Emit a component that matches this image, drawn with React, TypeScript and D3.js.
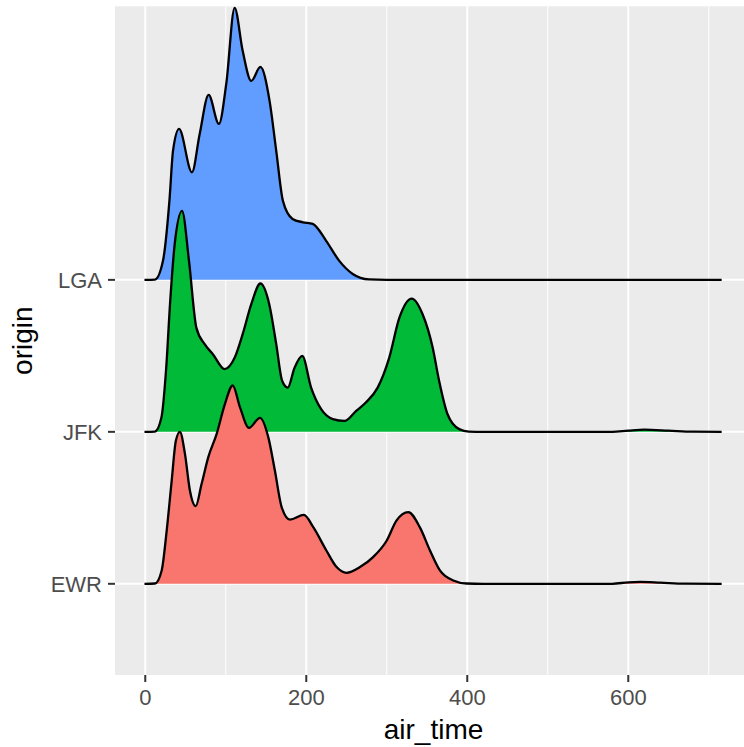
import React from 'react';
import * as d3 from 'd3';

// ridge heights, in units of one row spacing
const origins = ['EWR', 'JFK', 'LGA'];
const fills = ['#F8766D', '#00BA38', '#619CFF'];
const xTicks = [0, 200, 400, 600];
const xMinorTicks = [100, 300, 500, 700];

const ewrRidge: [number, number][] = [
    [-1, 0], [12, 0.002], [20.4, 0.088], [26.6, 0.349], [32.8, 0.678], [38, 0.941], [43, 1.0],
    [49.3, 0.855], [55.5, 0.612], [62.6, 0.511], [70, 0.658], [78.3, 0.834], [88.7, 0.987],
    [99, 1.184], [108.6, 1.305], [117.6, 1.163], [128.8, 1.026], [142.5, 1.092], [152.8, 0.965],
    [161, 0.745], [169.4, 0.505], [179.7, 0.423], [197, 0.454], [208.7, 0.373], [225, 0.219],
    [237.7, 0.11], [250, 0.072], [266.7, 0.11], [283, 0.176], [300, 0.285], [312, 0.416],
    [326.7, 0.472], [341, 0.373], [353.7, 0.219], [366, 0.088], [382.6, 0.022], [399, 0.002],
    [420, 0], [580, 0], [600, 0.01], [615, 0.013], [640, 0.008], [670, 0.001], [716, 0],
];

const jfkRidge: [number, number][] = [
    [-1, 0], [12, 0.002], [20, 0.092], [26, 0.42], [31, 0.862], [36.6, 1.237], [45.7, 1.454],
    [54.3, 1.125], [63.5, 0.684], [73.8, 0.577], [84, 0.511], [98.6, 0.413], [111, 0.487],
    [121, 0.643], [131.7, 0.84], [143, 0.976], [154, 0.84], [162.7, 0.577], [170, 0.336],
    [177, 0.291], [185.4, 0.421], [195, 0.5], [206, 0.291], [218.5, 0.149], [233, 0.084],
    [247.4, 0.072], [262, 0.138], [274, 0.193], [288.7, 0.291], [303, 0.487], [315.6, 0.75],
    [331, 0.877], [344.5, 0.774], [357, 0.555], [365, 0.336], [375.5, 0.116], [390, 0.018],
    [402, 0.002], [420, 0], [580, 0], [600, 0.008], [620, 0.014], [650, 0.008], [680, 0.001],
    [716, 0],
];

const lgaRidge: [number, number][] = [
    [-1, 0], [12, 0.002], [22, 0.125], [30, 0.52], [34.5, 0.85], [42, 0.993], [58, 0.708],
    [67.6, 0.96], [78.7, 1.217], [91.5, 1.026], [100.6, 1.29], [111, 1.79], [121, 1.507],
    [131.7, 1.309], [143, 1.401], [154.4, 1.178], [162.7, 0.849], [171, 0.52], [183, 0.401],
    [195.7, 0.379], [208, 0.368], [224.7, 0.257], [241, 0.125], [257.7, 0.039], [278, 0.003],
    [300, 0], [716, 0],
];

const ridges = [ewrRidge, jfkRidge, lgaRidge];

const W = 744;
const H = 747;
const panel = { left: 115, right: 752, top: 6.3, bottom: 675 };
const font = '"Liberation Sans", Arial, sans-serif';

export default function App() {
    const x = d3.scaleLinear().domain([-37.6, 753.7]).range([panel.left, panel.right]);
    const y = d3.scaleLinear().domain([0.4, 4.8]).range([panel.bottom, panel.top]);

    // lower rows are drawn last, on top of the upper ones
    const order = [2, 1, 0];

    return (
        <svg width={W} height={H} style={{ position: 'absolute', left: 0, top: 0, display: 'block' }}>
            <rect x={0} y={0} width={W} height={H} fill="#ffffff" />
            <rect x={panel.left} y={panel.top} width={panel.right - panel.left}
                height={panel.bottom - panel.top} fill="#EBEBEB" />

            {xMinorTicks.map(t => (
                <line key={'m' + t} x1={x(t)} x2={x(t)} y1={panel.top} y2={panel.bottom}
                    stroke="#ffffff" strokeWidth={1} />
            ))}
            {xTicks.map(t => (
                <line key={'g' + t} x1={x(t)} x2={x(t)} y1={panel.top} y2={panel.bottom}
                    stroke="#ffffff" strokeWidth={2} />
            ))}
            {origins.map((o, i) => (
                <line key={'h' + o} x1={panel.left} x2={panel.right} y1={y(i + 1)} y2={y(i + 1)}
                    stroke="#ffffff" strokeWidth={2} />
            ))}

            {order.map(i => {
                const base = i + 1;
                const area = d3.area<[number, number]>()
                    .x(d => x(d[0]))
                    .y0(y(base))
                    .y1(d => y(base + d[1]))
                    .curve(d3.curveMonotoneX);
                const line = d3.line<[number, number]>()
                    .x(d => x(d[0]))
                    .y(d => y(base + d[1]))
                    .curve(d3.curveMonotoneX);
                return (
                    <g key={origins[i]}>
                        <path d={area(ridges[i]) || ''} fill={fills[i]} />
                        <path d={line(ridges[i]) || ''} fill="none" stroke="#000000"
                            strokeWidth={2.3} strokeLinejoin="round" />
                    </g>
                );
            })}

            {/* y axis */}
            {origins.map((o, i) => (
                <g key={'y' + o}>
                    <line x1={108} x2={panel.left} y1={y(i + 1)} y2={y(i + 1)} stroke="#333333" strokeWidth={2} />
                    <text x={102} y={y(i + 1)} dy="0.36em" textAnchor="end" fontFamily={font}
                        fontSize={22} fill="#4D4D4D">{o}</text>
                </g>
            ))}

            {/* x axis */}
            {xTicks.map(t => (
                <g key={'x' + t}>
                    <line x1={x(t)} x2={x(t)} y1={panel.bottom} y2={panel.bottom + 7} stroke="#333333" strokeWidth={2} />
                    <text x={x(t)} y={705} textAnchor="middle" fontFamily={font}
                        fontSize={22} fill="#4D4D4D">{t}</text>
                </g>
            ))}

            <text x={(panel.left + panel.right) / 2} y={739} textAnchor="middle" fontFamily={font}
                fontSize={28} fill="#000000">air_time</text>
            <text transform={`translate(32,${(panel.top + panel.bottom) / 2}) rotate(-90)`}
                textAnchor="middle" fontFamily={font} fontSize={28} fill="#000000">origin</text>
        </svg>
    );
}
